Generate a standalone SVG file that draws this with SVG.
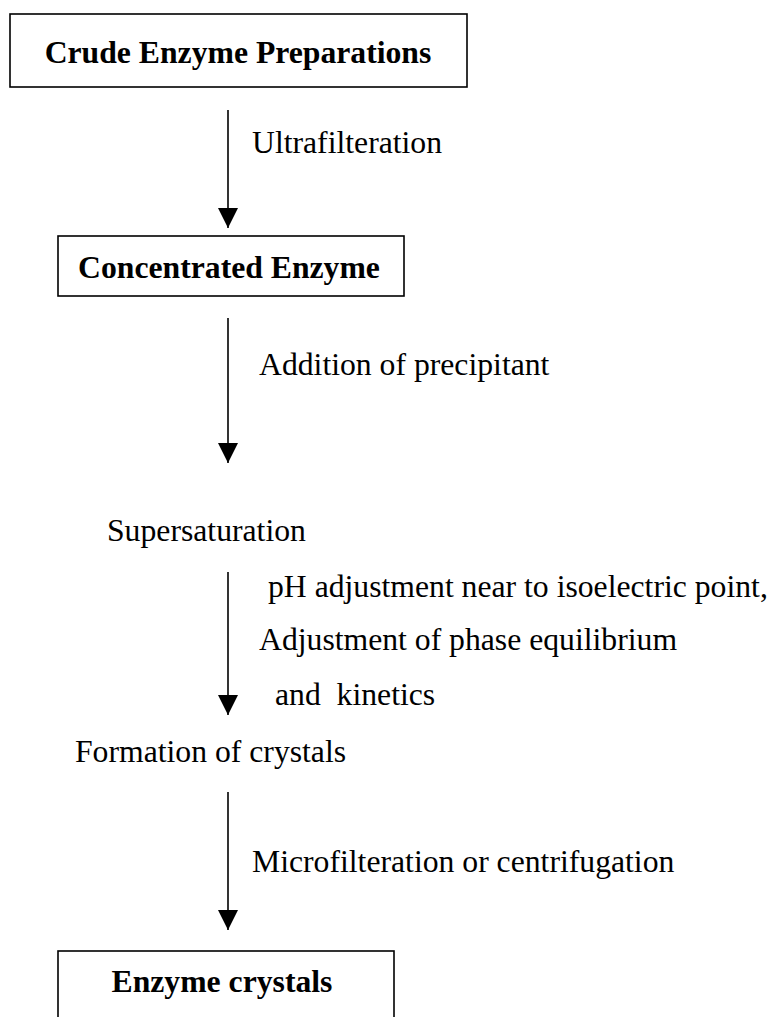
<svg xmlns="http://www.w3.org/2000/svg" width="775" height="1017" viewBox="0 0 775 1017">
  <style>
    .box { fill: #ffffff; stroke: #000000; stroke-width: 1.6; }
    .title { font-family: "Liberation Serif", "Times New Roman", serif; font-weight: bold; font-size: 31.7px; fill: #000000; text-anchor: middle; }
    .label { font-family: "Liberation Serif", "Times New Roman", serif; font-size: 31.7px; fill: #000000; }
    .flow { stroke: #000000; stroke-width: 1.6; fill: none; marker-end: url(#head); }
  </style>
  <defs>
    <marker id="head" markerUnits="userSpaceOnUse" markerWidth="20" markerHeight="20" refX="20" refY="10" orient="auto">
      <path d="M0,0 L20,10 L0,20 Z" fill="#000000"/>
    </marker>
  </defs>
  <rect width="775" height="1017" fill="#ffffff"/>

  <!-- process steps -->
  <g id="crude-enzyme">
    <rect class="box" x="10" y="14" width="457" height="73"/>
    <text class="title" x="238" y="63">Crude Enzyme Preparations</text>
  </g>
  <g id="concentrated-enzyme">
    <rect class="box" x="58" y="236" width="346" height="60"/>
    <text class="title" x="229" y="278">Concentrated Enzyme</text>
  </g>
  <g id="supersaturation">
    <text class="label" x="107" y="541">Supersaturation</text>
  </g>
  <g id="formation-of-crystals">
    <text class="label" x="75" y="762">Formation of crystals</text>
  </g>
  <g id="enzyme-crystals">
    <rect class="box" x="58" y="951" width="336" height="90"/>
    <text class="title" x="222" y="992">Enzyme crystals</text>
  </g>

  <!-- arrows between steps with their operations -->
  <g id="connectors">
    <line class="flow" x1="228" y1="110" x2="228" y2="228"/>
    <text class="label" x="252" y="153">Ultrafilteration</text>

    <line class="flow" x1="228" y1="318" x2="228" y2="463"/>
    <text class="label" x="259" y="375">Addition of precipitant</text>

    <line class="flow" x1="228" y1="572" x2="228" y2="715"/>
    <text class="label" x="268" y="597">pH adjustment near to isoelectric point,</text>
    <text class="label" x="259" y="650">Adjustment of phase equilibrium</text>
    <text class="label" x="275" y="705" xml:space="preserve">and  kinetics</text>

    <line class="flow" x1="228" y1="792" x2="228" y2="930"/>
    <text class="label" x="252" y="872">Microfilteration or centrifugation</text>
  </g>
</svg>
